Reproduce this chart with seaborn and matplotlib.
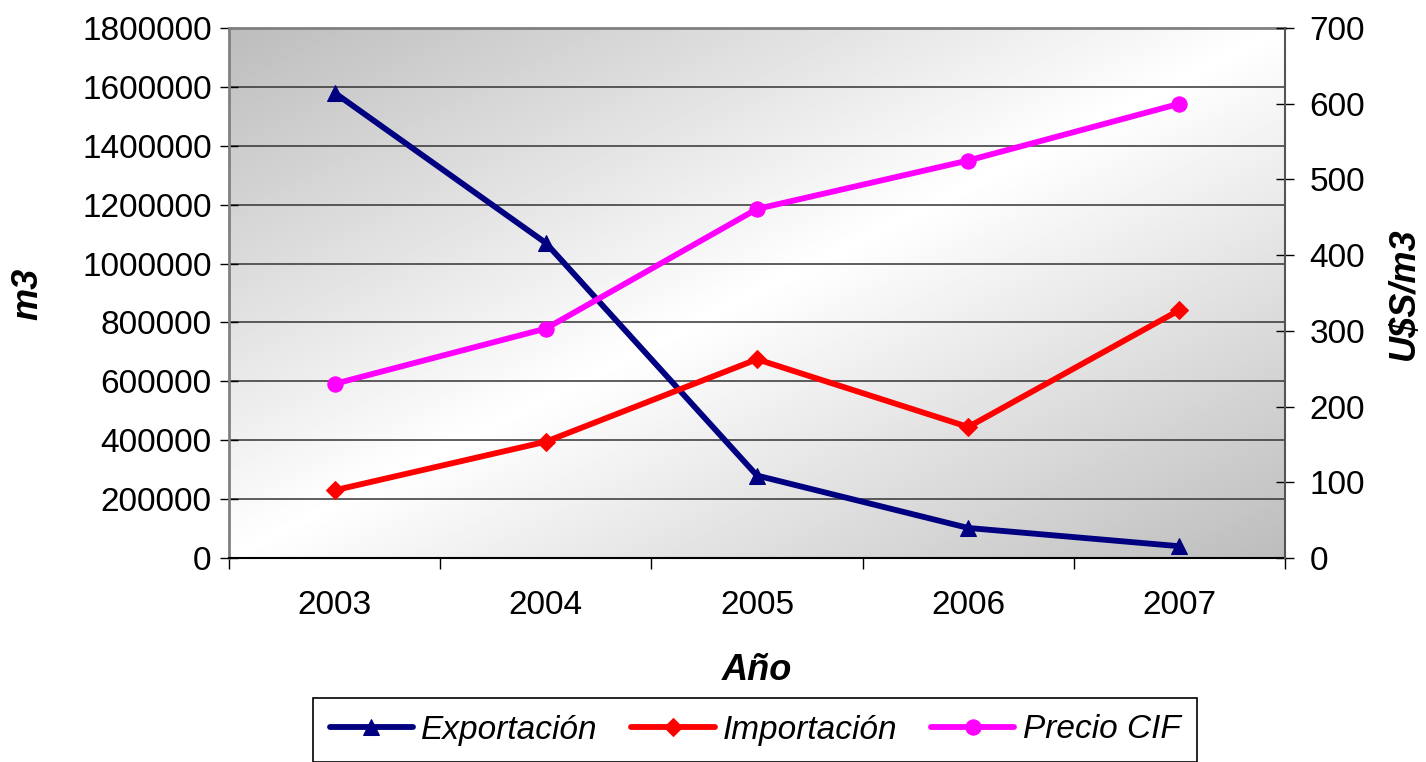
import numpy as np
import pandas as pd
import matplotlib
matplotlib.use("Agg")
import matplotlib.pyplot as plt
from matplotlib.ticker import FixedLocator
import seaborn as sns

# data
years = ["2003", "2004", "2005", "2006", "2007"]
exportacion = [1580000, 1070000, 280000, 102000, 40000]
importacion = [230000, 395000, 675000, 445000, 842000]
precio_cif = [230, 303, 461, 525, 600]

sns.set_style("white")
plt.rcParams["font.family"] = ["Liberation Sans", "DejaVu Sans"]
plt.rcParams["text.color"] = "black"
plt.rcParams["xtick.color"] = "black"
plt.rcParams["ytick.color"] = "black"

df = pd.DataFrame({"idx": range(len(years)), "year": years,
                   "Exportación": exportacion, "Importación": importacion,
                   "Precio CIF": precio_cif})

fig = plt.figure(figsize=(14.26, 7.62), dpi=100)
ax = fig.add_axes([229 / 1426, 1 - 558 / 762, (1285 - 229) / 1426, (558 - 28) / 762])
ax2 = ax.twinx()

# diagonal gradient background (dark corners top-left / bottom-right)
n = 300
xf, yf = np.meshgrid(np.linspace(0, 1, n), np.linspace(0, 1, n))
t = np.abs(xf + yf - 1.0)
grad = 1.0 - 0.26 * t
ax.imshow(grad, cmap="gray", vmin=0, vmax=1, extent=[0, 1, 0, 1],
          transform=ax.transAxes, aspect="auto", zorder=0, origin="upper")

sns.lineplot(data=df, x="idx", y="Exportación", ax=ax, color="#000080", marker="^",
             markersize=12, markeredgecolor="#000080", linewidth=4.2, label="Exportación", zorder=3)
sns.lineplot(data=df, x="idx", y="Importación", ax=ax, color="#FF0000", marker="D",
             markersize=9.5, markeredgecolor="#FF0000", linewidth=4.2, label="Importación", zorder=3)
sns.lineplot(data=df, x="idx", y="Precio CIF", ax=ax2, color="#FF00FF", marker="o",
             markersize=11, markeredgecolor="#FF00FF", linewidth=4.2, label="Precio CIF", zorder=3)

h1, l1 = ax.get_legend_handles_labels()
h2, l2 = ax2.get_legend_handles_labels()
ax.get_legend().remove()
ax2.get_legend().remove()

ax.set_xlim(-0.5, len(years) - 0.5)
ax.set_ylim(0, 1800000)
ax2.set_ylim(0, 700)
ax.set_yticks(range(0, 1800001, 200000))
ax.set_yticklabels([str(v) for v in range(0, 1800001, 200000)])
ax2.set_yticks(range(0, 701, 100))

ax.set_xticks(range(len(years)))
ax.set_xticklabels(years)
ax.xaxis.set_minor_locator(FixedLocator(np.arange(-0.5, len(years), 1.0)))
ax.tick_params(axis="x", which="major", length=0, pad=23, labelsize=24)
ax.tick_params(axis="x", which="minor", direction="out", length=8, width=1, color="black", bottom=True)
ax.tick_params(axis="y", direction="inout", length=13, width=1, color="black", pad=6, labelsize=24, left=True)
ax2.tick_params(axis="y", direction="inout", length=13, width=1, color="black", pad=11, labelsize=24, right=True)

ax.grid(axis="y", color="#333333", linewidth=1.1, zorder=1)
ax.set_axisbelow(True)

ax.set_xlabel("")
ax.set_ylabel("")
ax2.set_ylabel("")
for sp in ["top", "left"]:
    ax.spines[sp].set_color("#808080")
    ax.spines[sp].set_linewidth(2)
ax.spines["bottom"].set_color("black")
ax.spines["bottom"].set_linewidth(1.5)
for sp in ax2.spines.values():
    sp.set_visible(False)
ax2.spines["right"].set_visible(True)
ax2.spines["right"].set_color("#555555")
ax2.spines["right"].set_linewidth(1.5)
ax.spines["right"].set_visible(False)

fig.text(28 / 1426, 1 - 294 / 762, "m3", rotation=90, ha="center", va="center",
         fontsize=26, fontweight="bold", fontstyle="italic")
fig.text(1404 / 1426, 1 - 294 / 762, "U$S/m3", rotation=90, ha="center", va="center",
         fontsize=26, fontweight="bold", fontstyle="italic")
fig.text(757 / 1426, 1 - 671 / 762, "Año", ha="center", va="center",
         fontsize=26, fontweight="bold", fontstyle="italic")

leg = fig.legend(h1 + h2, l1 + l2, loc="center", bbox_to_anchor=(755 / 1426, 1 - 730 / 762),
                 bbox_transform=fig.transFigure, ncol=3, frameon=True, fancybox=False,
                 edgecolor="black", framealpha=1, handlelength=2.5, handletextpad=0.25,
                 columnspacing=1.0, borderpad=0.5, prop={"style": "italic", "size": 24})
leg.get_frame().set_linewidth(1.2)

fig.savefig("out.png", dpi=100)
